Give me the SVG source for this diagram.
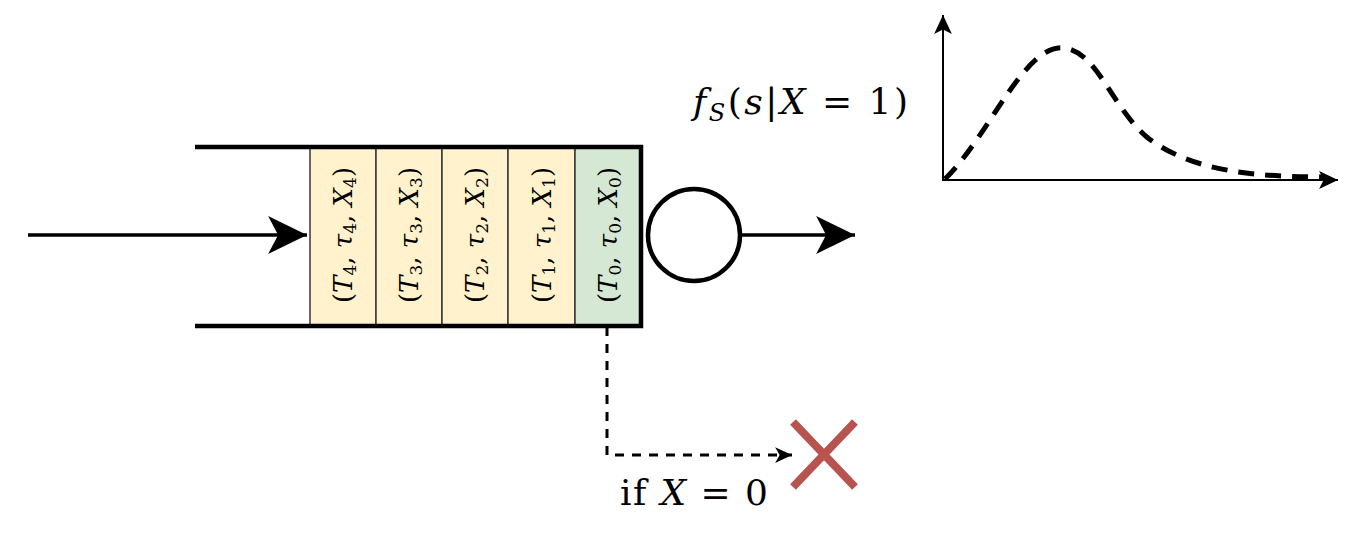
<svg xmlns="http://www.w3.org/2000/svg" width="1356" height="554" viewBox="0 0 1356 554">
<style>
.cellY{fill:#fff2cc;stroke:#36393d;stroke-width:1.5}
.cellG{fill:#d5e8d4;stroke:#36393d;stroke-width:1.5}
text{font-family:"DejaVu Serif","Liberation Serif",serif;fill:#000}
.ct{font-size:26px;text-anchor:middle}
.it{font-style:italic}
.sb{font-size:17px;font-style:normal}
.wall{stroke:#000;stroke-width:4.5;fill:none}
.conn{stroke:#000;fill:none}
</style>
<defs>
<marker id="bigArrow" markerUnits="userSpaceOnUse" markerWidth="40" markerHeight="40" viewBox="0 0 36 36" refX="35" refY="18" orient="auto">
<path d="M0,1 L35,18 L0,35 L9,18 Z" fill="#000"/>
</marker>
<marker id="axArrow" markerUnits="userSpaceOnUse" markerWidth="20" markerHeight="20" viewBox="0 0 18 18" refX="17" refY="9" orient="auto">
<path d="M0,1 L17,9 L0,17 L4,9 Z" fill="#000"/>
</marker>
<marker id="smallArrow" markerUnits="userSpaceOnUse" markerWidth="18" markerHeight="18" viewBox="0 0 16 16" refX="15" refY="8" orient="auto">
<path d="M0,1 L15,8 L0,15 L4,8 Z" fill="#000"/>
</marker>
</defs>

<g id="queue">
<rect class="cellY" x="310" y="148" width="66" height="177"/>
<rect class="cellY" x="376" y="148" width="66" height="177"/>
<rect class="cellY" x="442" y="148" width="66" height="177"/>
<rect class="cellY" x="508" y="148" width="67" height="177"/>
<rect class="cellG" x="575" y="148" width="66" height="177"/>
<path class="wall" d="M195,147 L641,147 L641,326 L195,326"/>
</g>

<g id="cell4"><text class="ct" transform="translate(352,235) rotate(-90)">(<tspan class="it">T</tspan><tspan class="sb" dy="4">4</tspan><tspan dy="-4">, </tspan><tspan class="it">τ</tspan><tspan class="sb" dy="4">4</tspan><tspan dy="-4">, </tspan><tspan class="it">X</tspan><tspan class="sb" dy="4">4</tspan><tspan dy="-4">)</tspan></text></g>
<g id="cell3"><text class="ct" transform="translate(418,235) rotate(-90)">(<tspan class="it">T</tspan><tspan class="sb" dy="4">3</tspan><tspan dy="-4">, </tspan><tspan class="it">τ</tspan><tspan class="sb" dy="4">3</tspan><tspan dy="-4">, </tspan><tspan class="it">X</tspan><tspan class="sb" dy="4">3</tspan><tspan dy="-4">)</tspan></text></g>
<g id="cell2"><text class="ct" transform="translate(484,235) rotate(-90)">(<tspan class="it">T</tspan><tspan class="sb" dy="4">2</tspan><tspan dy="-4">, </tspan><tspan class="it">τ</tspan><tspan class="sb" dy="4">2</tspan><tspan dy="-4">, </tspan><tspan class="it">X</tspan><tspan class="sb" dy="4">2</tspan><tspan dy="-4">)</tspan></text></g>
<g id="cell1"><text class="ct" transform="translate(551,235) rotate(-90)">(<tspan class="it">T</tspan><tspan class="sb" dy="4">1</tspan><tspan dy="-4">, </tspan><tspan class="it">τ</tspan><tspan class="sb" dy="4">1</tspan><tspan dy="-4">, </tspan><tspan class="it">X</tspan><tspan class="sb" dy="4">1</tspan><tspan dy="-4">)</tspan></text></g>
<g id="cell0"><text class="ct" transform="translate(617,235) rotate(-90)">(<tspan class="it">T</tspan><tspan class="sb" dy="4">0</tspan><tspan dy="-4">, </tspan><tspan class="it">τ</tspan><tspan class="sb" dy="4">0</tspan><tspan dy="-4">, </tspan><tspan class="it">X</tspan><tspan class="sb" dy="4">0</tspan><tspan dy="-4">)</tspan></text></g>

<g id="server">
<circle cx="694" cy="235" r="46" fill="#fff" stroke="#000" stroke-width="4.5"/>
</g>

<g id="reject">
<path d="M793,422 L855,487 M855,422 L793,487" stroke="#b85450" stroke-width="8" fill="none"/>
</g>

<g id="connectors">
<path class="conn" d="M28,235 L307,235" stroke-width="3.5" marker-end="url(#bigArrow)"/>
<path class="conn" d="M741,235 L855,235" stroke-width="3.5" marker-end="url(#bigArrow)"/>
<path class="conn" d="M607,327 L607,455 L792,455" stroke-width="3" stroke-dasharray="9 8" marker-end="url(#smallArrow)"/>
</g>

<g id="plot">
<path class="conn" d="M943,181 L943,15" stroke-width="2" marker-end="url(#axArrow)"/>
<path class="conn" d="M943,180 L1338,180" stroke-width="2" marker-end="url(#axArrow)"/>
<path class="conn" d="M945,179 C990,135 1025,42 1065,48 C1098,53 1112,108 1148,138 C1190,170 1250,177 1325,177" stroke-width="5" stroke-dasharray="16 11"/>
</g>

<g id="labels">
<text x="693" y="114" font-size="36" textLength="215" lengthAdjust="spacing"><tspan font-style="italic">f</tspan><tspan font-style="italic" font-size="24" dy="7">S</tspan><tspan dy="-7">(</tspan><tspan font-style="italic">s</tspan>|<tspan font-style="italic">X</tspan> = 1)</text>
<text x="620" y="505" font-size="36" textLength="148" lengthAdjust="spacing">if <tspan font-style="italic">X</tspan> = 0</text>
</g>
</svg>
